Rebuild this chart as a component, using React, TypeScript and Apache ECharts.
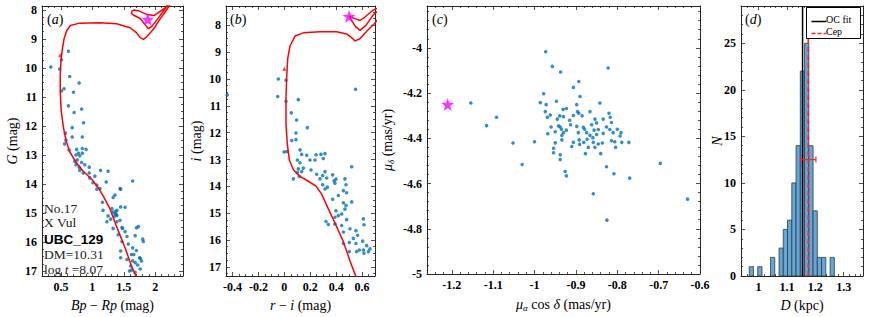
import React, { useEffect, useRef } from 'react';
import * as echarts from 'echarts';

// ---------- Panel (a): Gaia CMD ----------
const cmdA: [number, number][] = [
  [0.62,9.43],[0.51,9.72],[0.34,9.97],[0.48,10.04],[0.64,10.30],[0.79,10.52],[0.55,10.72],[0.51,10.80],[0.70,10.84],
  [0.62,11.31],[0.83,11.42],[0.71,11.54],[0.86,11.89],[0.68,12.06],[0.57,12.25],[0.68,12.38],[0.84,12.38],[0.58,12.49],
  [0.56,12.62],[0.63,12.83],[0.75,12.81],[0.84,12.78],[0.90,12.81],[0.78,12.94],[0.74,13.0],[0.84,12.94],[0.80,13.03],
  [0.76,13.17],[0.83,13.26],[0.74,13.34],[0.79,13.42],[0.88,13.34],[0.95,13.42],[0.80,13.53],[0.855,13.62],[1.13,13.53],
  [0.95,13.62],[1.04,13.73],[0.96,13.79],[1.01,13.96],[1.07,14.04],[1.22,13.93],[1.64,13.90],[1.12,14.16],[1.07,14.18],
  [1.45,14.18],[1.36,14.38],[1.33,14.46],[1.16,14.63],[1.45,14.79],[1.17,14.91],[1.31,14.85],[1.33,14.97],[1.39,14.91],
  [1.36,15.02],[1.39,15.08],[1.25,15.1],[1.23,15.3],[1.39,15.3],[1.44,15.25],[1.33,15.53],[1.48,15.53],[1.41,15.75],
  [1.52,15.64],[1.70,15.51],[1.55,15.81],[1.68,15.78],[1.81,15.98],[1.47,15.98],[1.57,16.07],[1.64,16.2],[1.45,16.31],
  [1.70,16.29],[1.62,16.43],[1.55,16.6],[1.64,16.65],[1.75,16.54],[1.68,16.71],[1.61,16.82],[1.72,16.79],[1.78,16.65],
  [1.76,16.93],[1.62,16.97],[1.68,17.04],[1.59,17.0],[1.45,16.54],[1.25,13.56],[0.72,13.22],[1.44,14.16],[1.52,14.8],
  [1.29,15.21],[1.47,15.5],[1.73,15.47],[1.80,15.9],[1.66,16.43],[1.76,16.56],[1.37,14.95],[1.38,15.05],[1.35,15.12]
];
const isoA: [number, number][] = [
  [1.72,17.4],[1.70,17.21],[1.62,16.82],[1.52,16.2],[1.385,15.47],[1.28,14.85],[1.17,14.4],[1.09,14.12],[0.99,13.84],
  [0.855,13.56],[0.75,13.28],[0.64,12.89],[0.58,12.49],[0.54,12.04],[0.505,11.48],[0.49,10.81],[0.49,10.25],[0.50,9.80],
  [0.52,9.40],[0.55,9.01],[0.59,8.73],[0.65,8.54],[0.80,8.46],[1.12,8.45],[1.385,8.48],[1.60,8.62],[1.70,8.79],
  [1.76,8.96],[1.81,9.02],[1.86,8.94],[1.97,8.67],[2.07,8.34],[2.18,8.0],[2.26,7.75],[2.3,7.6],
  [2.25,7.7],[2.17,7.92],[2.05,8.28],[1.94,8.58],[1.89,8.65],[1.84,8.52],[1.76,8.3],[1.65,8.18],[1.62,8.12],
  [1.63,8.04],[1.66,8.01],[1.73,8.03],[1.86,8.16],[1.98,8.2],[2.07,8.06],[2.15,7.94],[2.24,7.72],[2.3,7.55]
];
const starA: [number, number][] = [[1.88, 8.33]];
const markA: [number, number][] = [[0.49, 9.57]];

// ---------- Panel (b): r-i vs i ----------
const cmdB: [number, number][] = [
  [-0.44,10.59],[-0.046,10.0],[0.013,10.04],[-0.051,10.65],[0.013,10.83],[0.108,10.77],[0.054,11.26],[0.095,11.53],
  [0.178,11.81],[0.090,12.01],[0.057,12.29],[0.090,12.26],[-0.002,12.72],[0.018,12.70],[0.121,12.64],[0.134,12.81],
  [0.173,12.84],[0.198,13.02],[0.101,13.02],[0.121,13.12],[0.108,13.35],[0.134,13.45],[0.147,13.32],[0.070,13.72],
  [0.116,13.63],[0.101,13.49],[0.206,13.39],[0.245,12.82],[0.283,12.81],[0.301,12.96],[0.237,13.02],[0.314,12.78],
  [0.314,13.45],[0.296,13.60],[0.327,13.69],[0.275,13.72],[0.250,13.55],[0.296,13.94],[0.314,14.10],[0.332,14.03],
  [0.373,13.57],[0.384,13.79],[0.391,13.88],[0.399,13.73],[0.468,13.72],[0.476,13.94],[0.456,14.16],[0.417,14.34],
  [0.481,14.24],[0.373,14.48],[0.456,14.61],[0.476,14.71],[0.468,14.85],[0.520,14.58],[0.399,14.91],[0.443,15.03],
  [0.391,15.15],[0.417,15.09],[0.481,15.24],[0.443,15.46],[0.391,15.40],[0.340,15.42],[0.322,15.31],[0.456,15.70],
  [0.507,15.58],[0.553,15.65],[0.610,15.21],[0.615,15.43],[0.566,15.82],[0.533,15.94],[0.502,16.09],[0.456,16.13],
  [0.553,16.13],[0.605,16.04],[0.610,16.37],[0.579,16.37],[0.636,16.21],[0.649,16.43],[0.615,16.49],[0.558,16.43],
  [0.502,16.43],[0.661,16.33],[0.52,13.27],[0.55,10.38]
];
const isoB: [number, number][] = [
  [0.56,17.5],[0.551,17.34],[0.507,16.78],[0.456,16.06],[0.399,15.45],[0.34,14.84],[0.288,14.29],[0.245,13.99],
  [0.185,13.81],[0.121,13.63],[0.07,13.38],[0.039,13.02],[0.023,12.41],[0.013,11.68],[0.013,10.71],[0.018,9.98],
  [0.026,9.25],[0.044,8.77],[0.083,8.40],[0.147,8.28],[0.275,8.24],[0.404,8.24],[0.481,8.32],[0.52,8.46],[0.546,8.58],
  [0.584,8.5],[0.636,8.22],[0.70,7.91],[0.75,7.6],
  [0.75,7.3],[0.687,7.43],[0.62,7.7],[0.584,7.82],[0.55,7.76],[0.5,7.66],[0.51,7.75],[0.55,8.05],[0.584,8.19],
  [0.63,8.0],[0.687,7.61],[0.75,7.35]
];
const starB: [number, number][] = [[0.5, 7.67]];
const markB: [number, number][] = [[0.0, 9.62]];

// ---------- Panel (c): proper motions ----------
const pmC: [number, number][] = [
  [-1.154,-4.244],[-1.116,-4.344],[-1.092,-4.307],[-1.052,-4.421],[-1.030,-4.516],[-1.0,-4.415],[-0.973,-4.017],
  [-0.957,-4.082],[-0.937,-4.107],[-0.978,-4.203],[-0.986,-4.242],[-0.972,-4.251],[-0.974,-4.282],[-0.969,-4.307],
  [-0.962,-4.297],[-0.947,-4.236],[-0.931,-4.272],[-0.923,-4.268],[-0.906,-4.175],[-0.893,-4.149],[-0.898,-4.251],
  [-0.906,-4.299],[-0.893,-4.289],[-0.939,-4.301],[-0.945,-4.315],[-0.938,-4.35],[-0.942,-4.345],[-0.935,-4.36],
  [-0.930,-4.304],[-0.915,-4.32],[-0.968,-4.380],[-0.950,-4.371],[-0.934,-4.387],[-0.934,-4.407],[-0.930,-4.375],
  [-0.923,-4.364],[-0.913,-4.340],[-0.896,-4.282],[-0.882,-4.351],[-0.879,-4.36],[-0.894,-4.375],[-0.898,-4.347],
  [-0.892,-4.407],[-0.881,-4.418],[-0.873,-4.404],[-0.866,-4.282],[-0.854,-4.315],[-0.850,-4.332],[-0.842,-4.244],
  [-0.834,-4.315],[-0.856,-4.364],[-0.846,-4.361],[-0.850,-4.383],[-0.859,-4.397],[-0.866,-4.387],[-0.874,-4.375],
  [-0.858,-4.418],[-0.846,-4.425],[-0.854,-4.440],[-0.836,-4.421],[-0.834,-4.378],[-0.826,-4.350],[-0.820,-4.289],
  [-0.817,-4.307],[-0.822,-4.089],[-0.814,-4.330],[-0.818,-4.361],[-0.810,-4.375],[-0.814,-4.411],[-0.806,-4.415],
  [-0.804,-4.440],[-0.793,-4.390],[-0.791,-4.375],[-0.789,-4.418],[-0.772,-4.418],[-0.891,-4.427],[-0.910,-4.436],
  [-0.906,-4.418],[-0.954,-4.444],[-0.954,-4.464],[-0.938,-4.473],[-0.938,-4.494],[-0.926,-4.547],[-0.923,-4.566],
  [-0.877,-4.468],[-0.840,-4.468],[-0.826,-4.526],[-0.808,-4.557],[-0.770,-4.576],[-0.858,-4.645],[-0.825,-4.762],
  [-0.696,-4.511],[-0.630,-4.669],[-0.89,-4.215],[-0.96,-4.35],[-0.95,-4.42],[-0.87,-4.44],[-0.885,-4.30],
  [-0.862,-4.34],[-0.80,-4.36]
];
const starC: [number, number][] = [[-1.21, -4.25]];

// ---------- Panel (d): distance histogram ----------
const binStart = 0.967;
const binWidth = 0.015;
const binCounts = [1, 0, 1, 0, 0, 2, 0, 3, 5, 6, 10, 14, 22, 25, 14, 7, 2, 2, 0, 2];
const ocFitD = 1.155;
const cepD = 1.175;
const cepErr: [number, number] = [1.149, 1.202];
const errY = 12.5;

const SERIF = '"Liberation Serif", "DejaVu Serif", serif';
const BLUE = '#0072BD';

function starPath(): string {
  let d = 'path://';
  for (let i = 0; i < 10; i++) {
    const r = i % 2 === 0 ? 50 : 20;
    const a = (-90 + i * 36) * Math.PI / 180;
    const x = 50 + r * Math.cos(a);
    const y = 50 + r * Math.sin(a);
    d += (i === 0 ? 'M' : 'L') + x.toFixed(2) + ' ' + y.toFixed(2) + ' ';
  }
  return d + 'Z';
}

const rich = {
  i: { fontFamily: SERIF, fontStyle: 'italic', fontSize: 14, color: '#000' },
  s: { fontFamily: SERIF, fontStyle: 'italic', fontSize: 9, color: '#000', padding: [7, 0, 0, 0] },
};
const richSmall = {
  i: { fontFamily: SERIF, fontStyle: 'italic', fontSize: 13.5, fill: '#222' },
};

function axes(
  dim: 'x' | 'y', gridIndex: number, min: number, max: number, splitNumber: number, minor: number,
  opts: { name?: string; nameGap?: number; inverse?: boolean; showMin?: boolean; showMax?: boolean }
) {
  const common = {
    type: 'value', gridIndex, min, max, splitNumber, inverse: !!opts.inverse,
    axisLine: { show: true, onZero: false, lineStyle: { color: '#262626', width: 1 } },
    axisTick: { show: true, inside: true, length: 4, lineStyle: { color: '#262626', width: 0.8 } },
    minorTick: { show: true, splitNumber: minor, length: 2, lineStyle: { color: '#262626', width: 0.8 } },
    splitLine: { show: false },
    minorSplitLine: { show: false },
  };
  const main = {
    ...common,
    position: dim === 'x' ? 'bottom' : 'left',
    axisLabel: {
      color: '#000', fontFamily: SERIF, fontWeight: 'bold', fontSize: 12, margin: 5,
      showMinLabel: opts.showMin ?? false, showMaxLabel: opts.showMax ?? false,
    },
    name: opts.name, nameLocation: 'middle', nameGap: opts.nameGap, nameMoveOverlap: false,
    nameTextStyle: { color: '#000', fontFamily: SERIF, fontSize: 14, rich },
  };
  const sec = {
    ...common,
    position: dim === 'x' ? 'top' : 'right',
    axisLabel: { show: false },
  };
  return [main, sec];
}

export default function App() {
  const ref = useRef<HTMLDivElement>(null);
  useEffect(() => {
    if (!ref.current) return;
    const chart = echarts.init(ref.current, undefined, { renderer: 'svg' });
    const star = starPath();

    const grids = [
      { left: 42, top: 6, width: 141, height: 276 },
      { left: 226, top: 6, width: 149, height: 276 },
      { left: 427, top: 6, width: 273, height: 276 },
      { left: 741, top: 6, width: 122, height: 276 },
    ];

    const xAxes = [
      ...axes('x', 0, 0.2, 2.44, 5, 5, { name: '{i|Bp} − {i|Rp} (mag)', nameGap: 22 }),
      ...axes('x', 1, -0.45, 0.7, 6, 4, { name: '{i|r} − {i|i} (mag)', nameGap: 22 }),
      ...axes('x', 2, -1.26, -0.6, 6, 5, { name: '{i|μ}{s|α} cos {i|δ} (mas/yr)', nameGap: 22, showMax: true }),
      ...axes('x', 3, 0.938, 1.368, 4, 5, { name: '{i|D} (kpc)', nameGap: 22 }),
    ];
    const yAxes = [
      ...axes('y', 0, 7.87, 17.17, 9, 4, { name: '{i|G} (mag)', nameGap: 23, inverse: true }),
      ...axes('y', 1, 7.28, 17.34, 10, 4, { name: '{i|i} (mag)', nameGap: 23, inverse: true }),
      ...axes('y', 2, -5, -3.815, 6, 5, { name: '{i|μ}{s|δ} (mas/yr)', nameGap: 32, showMin: true }),
      ...axes('y', 3, 0, 29, 6, 5, { name: '{i|N}', nameGap: 17, showMin: true }),
    ];

    const scatterBase = { type: 'scatter', symbolSize: 3.6, itemStyle: { color: BLUE }, z: 3 };
    const isoBase = { type: 'line', showSymbol: false, symbol: 'none', smooth: false,
      lineStyle: { color: '#ff0000', width: 1.5 }, z: 4, clip: true };
    const starBase = { type: 'scatter', symbol: star, symbolSize: 13, itemStyle: { color: '#ff00ff' }, z: 6 };

    const histData = binCounts.map((c, i) => [binStart + i * binWidth, binStart + (i + 1) * binWidth, c]);

    const txt = (text: string, x: number, y: number, extra: any = {}) => ({
      type: 'text', x, y, z: 50,
      style: { text, fontFamily: SERIF, fontSize: 13.5, fill: '#222', verticalAlign: 'middle', align: 'left', ...extra },
    });

    const option = {
      animation: false,
      backgroundColor: '#fff',
      grid: grids,
      xAxis: xAxes,
      yAxis: yAxes,
      series: [
        { ...scatterBase, xAxisIndex: 0, yAxisIndex: 0, data: cmdA },
        { ...isoBase, xAxisIndex: 0, yAxisIndex: 0, data: isoA },
        { type: 'scatter', xAxisIndex: 0, yAxisIndex: 0, data: markA, symbol: 'triangle', symbolSize: 4,
          itemStyle: { color: '#ff0000' }, z: 5 },
        { ...starBase, xAxisIndex: 0, yAxisIndex: 0, data: starA },

        { ...scatterBase, xAxisIndex: 2, yAxisIndex: 2, data: cmdB },
        { ...isoBase, xAxisIndex: 2, yAxisIndex: 2, data: isoB },
        { type: 'scatter', xAxisIndex: 2, yAxisIndex: 2, data: markB, symbol: 'triangle', symbolSize: 4,
          itemStyle: { color: '#ff0000' }, z: 5 },
        { ...starBase, xAxisIndex: 2, yAxisIndex: 2, data: starB },

        { ...scatterBase, xAxisIndex: 4, yAxisIndex: 4, data: pmC },
        { ...starBase, xAxisIndex: 4, yAxisIndex: 4, data: starC },

        {
          type: 'custom', xAxisIndex: 6, yAxisIndex: 6, data: histData, encode: { x: [0, 1], y: 2 }, z: 2,
          renderItem: (params: any, api: any) => {
            const n = api.value(2);
            if (!n) return null;
            const p0 = api.coord([api.value(0), n]);
            const p1 = api.coord([api.value(1), 0]);
            return {
              type: 'rect',
              shape: { x: p0[0], y: p0[1], width: p1[0] - p0[0], height: p1[1] - p0[1] },
              style: { fill: '#62a7db', stroke: '#3a3a3a', lineWidth: 0.8 },
            };
          },
        },
        { type: 'line', xAxisIndex: 6, yAxisIndex: 6, data: [[ocFitD, 0], [ocFitD, 29]], symbol: 'none',
          lineStyle: { color: '#000', width: 1.5 }, z: 4 },
        { type: 'line', xAxisIndex: 6, yAxisIndex: 6, data: [[cepD, 0], [cepD, 29]], symbol: 'none',
          lineStyle: { color: '#ff2020', width: 1.6, type: [5, 3] }, z: 4 },
        {
          type: 'custom', xAxisIndex: 6, yAxisIndex: 6, data: [[cepErr[0], cepErr[1], errY]], z: 5,
          encode: { x: [0, 1], y: 2 },
          renderItem: (params: any, api: any) => {
            const a = api.coord([api.value(0), api.value(2)]);
            const b = api.coord([api.value(1), api.value(2)]);
            const st = { stroke: '#ff2020', lineWidth: 1.2 };
            return {
              type: 'group',
              children: [
                { type: 'line', shape: { x1: a[0], y1: a[1], x2: b[0], y2: b[1] }, style: st },
                { type: 'line', shape: { x1: a[0], y1: a[1] - 3, x2: a[0], y2: a[1] + 3 }, style: st },
                { type: 'line', shape: { x1: b[0], y1: b[1] - 3, x2: b[0], y2: b[1] + 3 }, style: st },
              ],
            };
          },
        },
      ],
      graphic: [
        { type: 'text', left: 47, top: 12, z: 50, style: { text: '({i|a})', fontFamily: SERIF, fontSize: 14, fill: '#000', rich } },
        { type: 'text', left: 230, top: 12, z: 50, style: { text: '({i|b})', fontFamily: SERIF, fontSize: 14, fill: '#000', rich } },
        { type: 'text', left: 432, top: 12, z: 50, style: { text: '({i|c})', fontFamily: SERIF, fontSize: 14, fill: '#000', rich } },
        { type: 'text', left: 745, top: 12, z: 50, style: { text: '({i|d})', fontFamily: SERIF, fontSize: 14, fill: '#000', rich } },
        txt('No.17', 44, 208),
        txt('X Vul', 44, 222.5),
        txt('UBC_129', 44, 239, { fontFamily: '"Liberation Sans", Arial, sans-serif', fontWeight: 'bold', fontSize: 13.5, fill: '#000' }),
        txt('DM=10.31', 44, 254.5),
        txt('log {i|t} =8.07', 44, 269, { rich: richSmall }),
        // legend of panel (d)
        { type: 'rect', left: 806, top: 7, z: 60, shape: { width: 54, height: 31 }, style: { fill: '#fff', stroke: '#000', lineWidth: 1 } },
        { type: 'line', left: 809, top: 19, z: 61, shape: { x1: 0, y1: 0, x2: 15, y2: 0 }, style: { stroke: '#000', lineWidth: 1.5 } },
        { type: 'line', left: 809, top: 31, z: 61, shape: { x1: 0, y1: 0, x2: 15, y2: 0 }, style: { stroke: '#ff2020', lineWidth: 1.5, lineDash: [4, 2] } },
        { type: 'text', left: 826, top: 14, z: 61, style: { text: 'OC fit', fontFamily: SERIF, fontSize: 10, fill: '#000' } },
        { type: 'text', left: 826, top: 26, z: 61, style: { text: 'Cep', fontFamily: SERIF, fontSize: 10, fill: '#000' } },
      ],
    };
    chart.setOption(option as any);
    return () => chart.dispose();
  }, []);
  return <div ref={ref} style={{ position: 'fixed', left: 0, top: 0, width: 872, height: 317 }} />;
}
